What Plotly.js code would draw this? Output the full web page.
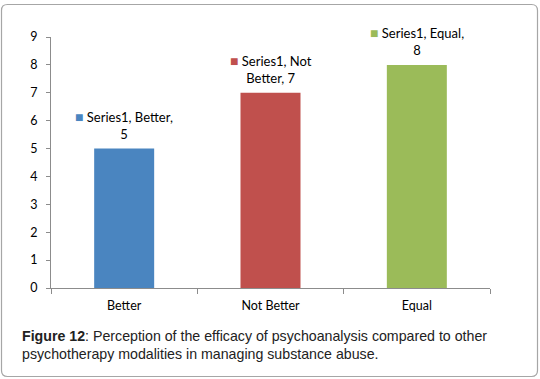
<!DOCTYPE html>
<html>
<head>
<meta charset="utf-8">
<script src="https://cdn.plot.ly/plotly-3.0.1.min.js"></script>
<style>html,body{margin:0;padding:0;background:#fff;}#chart{width:540px;height:379px;}</style>
</head>
<body>
<div id="chart"></div>
<script>
const categories = ["Better", "Not Better", "Equal"];
const values = [5, 7, 8];
const seriesName = "Series1";
const colors = ["#4a85c0", "#c0504d", "#9bbb59"];
const yTicks = [0, 1, 2, 3, 4, 5, 6, 7, 8, 9];
const captionBold = "Figure 12";
const captionText = ": Perception of the efficacy of psychoanalysis compared to other<br>psychotherapy modalities in managing substance abuse.";

const W = 540, H = 379;
const M = {l: 51, r: 50, t: 37, b: 91};
const pw = W - M.l - M.r, ph = H - M.t - M.b;
const px = x => (x - M.l) / pw;
const py = y => (H - M.b - y) / ph;

const labelTexts = [
  seriesName + ", Better,<br>" + values[0],
  seriesName + ", Not<br>Better, " + values[1],
  seriesName + ", Equal,<br>" + values[2]
];

const annotations = categories.map((c, i) => ({
  x: c, y: values[i], xref: "x", yref: "y",
  text: '<span style="color:' + colors[i] + ';font-size:14px">■</span> ' + labelTexts[i],
  showarrow: false, xanchor: "center", yanchor: "bottom", yshift: 5,
  align: "center",
  font: {family: "Lato, 'Open Sans', sans-serif", size: 13, color: "#000"}
}));

annotations.push({
  xref: "paper", yref: "paper", x: px(20), y: py(326),
  xanchor: "left", yanchor: "top", align: "left", showarrow: false,
  text: "<b>" + captionBold + "</b>" + captionText,
  font: {family: "'Liberation Sans', Arial, sans-serif", size: 14.2, color: "#222"}
});

function roundRect(x0, y0, x1, y1, r) {
  const P = (x, y) => px(x) + "," + py(y);
  return "M" + P(x0 + r, y0) + " L" + P(x1 - r, y0) +
    " Q" + P(x1, y0) + " " + P(x1, y0 + r) +
    " L" + P(x1, y1 - r) + " Q" + P(x1, y1) + " " + P(x1 - r, y1) +
    " L" + P(x0 + r, y1) + " Q" + P(x0, y1) + " " + P(x0, y1 - r) +
    " L" + P(x0, y0 + r) + " Q" + P(x0, y0) + " " + P(x0 + r, y0) + " Z";
}

const trace = {
  type: "bar", x: categories, y: values, name: seriesName,
  marker: {color: colors}, width: 0.41, hoverinfo: "none"
};

const layout = {
  width: W, height: H,
  margin: M,
  paper_bgcolor: "#fff", plot_bgcolor: "#fff",
  showlegend: false,
  font: {family: "Lato, 'Open Sans', sans-serif", size: 12, color: "#000"},
  xaxis: {
    type: "category", range: [-0.5, 2.5], showgrid: false, zeroline: false,
    showline: true, linecolor: "#8c8c8c", linewidth: 1,
    ticks: "outside", tickson: "boundaries", ticklen: 5, tickcolor: "#8c8c8c",
    ticklabelstandoff: 6,
    tickfont: {family: "Lato, 'Open Sans', sans-serif", size: 12.5, color: "#000"},
    fixedrange: true
  },
  yaxis: {
    range: [0, 9], tickvals: yTicks, showgrid: false, zeroline: false,
    showline: true, linecolor: "#8c8c8c", linewidth: 1,
    ticks: "outside", ticklen: 4, tickcolor: "#8c8c8c",
    ticklabelstandoff: 6,
    tickfont: {family: "Lato, 'Open Sans', sans-serif", size: 12.5, color: "#000"},
    fixedrange: true
  },
  annotations: annotations,
  shapes: [{
    type: "path", xref: "paper", yref: "paper",
    path: roundRect(1.5, 4.5, 537.5, 376.5, 6),
    line: {color: "#a6a6a6", width: 1.2}, layer: "below"
  }]
};

Plotly.newPlot("chart", [trace], layout, {displayModeBar: false, staticPlot: true});
</script>
</body>
</html>
